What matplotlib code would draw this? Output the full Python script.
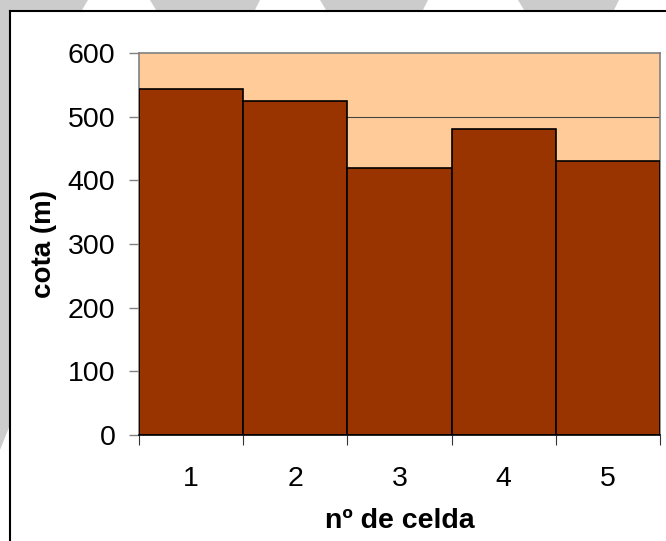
import numpy as np
import matplotlib.pyplot as plt
from matplotlib.patches import Polygon
from matplotlib.lines import Line2D

plt.rcParams['font.family'] = ['Liberation Sans', 'DejaVu Sans']

# datos
celdas = [1, 2, 3, 4, 5]
cota = [543, 525, 420, 480, 430]
yticks = [0, 100, 200, 300, 400, 500, 600]

W, H = 666, 541
fig = plt.figure(figsize=(W / 100, H / 100), dpi=100)
fig.patch.set_facecolor('white')

def px(x, y):
    # pixel coords (top-left origin) -> figure fraction
    return (x / W, 1 - y / H)

# fondo gris con franjas (marca de agua fuera del marco)
gray = '#cccccc'
shapes = [
    [(0, 0), (88, 0), (82, 10), (10, 10), (10, 425), (0, 450)],
    [(150, 0), (260, 0), (255, 10), (156, 10)],
    [(320, 0), (428, 0), (423, 10), (326, 10)],
    [(518, 0), (619, 0), (614, 10), (524, 10)],
]
for s in shapes:
    fig.patches.append(Polygon([px(*p) for p in s], closed=True,
                               transform=fig.transFigure, facecolor=gray,
                               edgecolor='none', zorder=0))

# marco negro (izquierda y arriba)
fig.lines.append(Line2D([10.5 / W, 10.5 / W], [0, 1 - 10.5 / H],
                        transform=fig.transFigure, color='black', lw=1.5))
fig.lines.append(Line2D([10.5 / W, 1], [1 - 10.5 / H, 1 - 10.5 / H],
                        transform=fig.transFigure, color='black', lw=1.5))

left, right, top, bottom = 139, 660, 53, 435
ax = fig.add_axes([left / W, 1 - bottom / H, (right - left) / W, (bottom - top) / H])
ax.set_facecolor('#FFCC99')

ax.bar(celdas, cota, width=1.0, color='#993300', edgecolor='black', linewidth=1.2, zorder=3)
ax.axhline(500, color='#444444', lw=0.8, zorder=1)

ax.set_xlim(0.5, 5.5)
ax.set_ylim(0, 600)
ax.set_yticks(yticks)
ax.set_xticks(np.arange(0.5, 6.0, 1.0))
ax.set_xticklabels([])
ax.set_xticks(celdas, minor=True)
ax.set_xticklabels([str(c) for c in celdas], minor=True)
ax.tick_params(axis='x', which='minor', length=0, labelsize=20.5, pad=22)
ax.tick_params(axis='x', which='major', length=7, color='#333333', width=0.8)
ax.tick_params(axis='y', length=7, color='#808080', width=1, labelsize=20.5, pad=10)

for side in ['top', 'right', 'left']:
    ax.spines[side].set_color('#808080')
    ax.spines[side].set_linewidth(1.2)
ax.spines['bottom'].set_color('black')
ax.spines['bottom'].set_linewidth(1.2)
ax.spines['bottom'].set_zorder(4)

ax.set_ylabel('cota (m)', fontsize=20, fontweight='bold', labelpad=8)
ax.set_xlabel('nº de celda', fontsize=20.5, fontweight='bold', labelpad=12)

fig.savefig('out.png', dpi=100)
